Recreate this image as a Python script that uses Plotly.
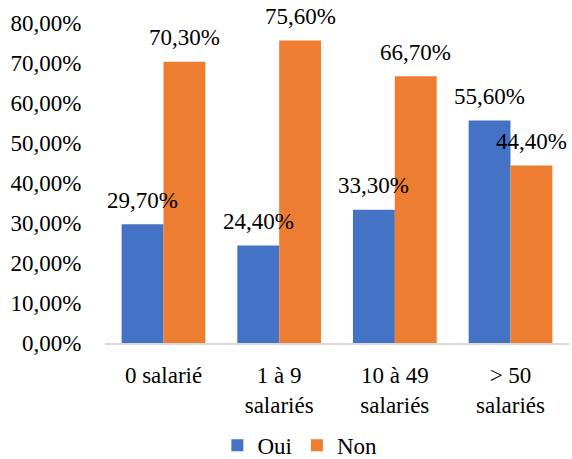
import plotly.graph_objects as go

categories = ["0 salarié", "1 à 9<br>salariés", "10 à 49<br>salariés", "> 50<br>salariés"]
oui = [29.7, 24.4, 33.3, 55.6]
non = [70.3, 75.6, 66.7, 44.4]
y_ticks = [0, 10, 20, 30, 40, 50, 60, 70, 80]

FONT = "Liberation Serif, Tinos, Times New Roman, serif"
BLUE = "#4472C4"
ORANGE = "#ED7D31"


def pct(v):
    return f"{v:.2f}".replace(".", ",") + "%"


fig = go.Figure()
fig.add_trace(go.Bar(name="Oui", x=categories, y=oui, marker_color=BLUE))
fig.add_trace(go.Bar(name="Non", x=categories, y=non, marker_color=ORANGE))

# value labels above each bar
for series, shift in ((oui, -21), (non, 21)):
    for cat, v in zip(categories, series):
        fig.add_annotation(
            x=cat, y=v, text=pct(v), showarrow=False,
            xshift=shift, yshift=24, yanchor="middle", xanchor="center",
            font=dict(family=FONT, size=23, color="#000000"),
        )

fig.update_layout(
    template="none",
    font=dict(family=FONT, size=23, color="#000000"),
    width=572, height=459,
    margin=dict(l=105, r=3, t=23, b=116, autoexpand=False),
    paper_bgcolor="white", plot_bgcolor="white",
    barmode="group", bargap=0.276, bargroupgap=0,
    showlegend=True,
    legend=dict(
        orientation="h", x=0.42, xanchor="center",
        yref="container", y=0.03, yanchor="middle",
        font=dict(family=FONT, size=23, color="#000000"),
        itemwidth=30, traceorder="normal",
    ),
)
fig.update_xaxes(
    showline=True, linecolor="#d9d9d9", linewidth=2,
    showgrid=False, zeroline=False, automargin=False,
    ticks="outside", ticklen=10, tickcolor="rgba(0,0,0,0)",
    tickfont=dict(family=FONT, size=23, color="#000000"),
)
fig.update_yaxes(
    range=[0, 80], tickvals=y_ticks,
    ticktext=[pct(t) for t in y_ticks],
    showgrid=False, zeroline=False, showline=False, automargin=False,
    ticks="outside", ticklen=18, tickcolor="rgba(0,0,0,0)",
    tickfont=dict(family=FONT, size=23, color="#000000"),
)

fig.write_html("out.html")
